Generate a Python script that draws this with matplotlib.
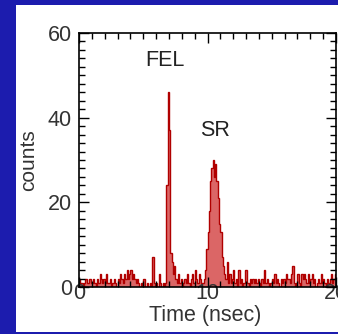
import numpy as np
import matplotlib
matplotlib.use("Agg")
import matplotlib.pyplot as plt
from matplotlib.patches import Rectangle
from matplotlib.ticker import MultipleLocator

plt.rcParams['font.family'] = ['Liberation Sans', 'DejaVu Sans']

# Time-of-flight histogram, 0.1 ns bins from 0 to 20 ns
bin_width = 0.1
counts = [
    # 0-1 ns
    2, 1, 1, 0, 1, 2, 1, 1, 2, 1,
    # 1-2 ns
    1, 2, 1, 0, 2, 1, 3, 2, 1, 2,
    # 2-3 ns
    1, 3, 1, 1, 2, 0, 1, 2, 1, 0,
    # 3-4 ns
    2, 1, 3, 2, 1, 3, 2, 4, 2, 3,
    # 4-5 ns
    4, 2, 3, 2, 1, 2, 1, 0, 1, 0,
    # 5-6 ns
    2, 0, 0, 1, 0, 1, 0, 7, 1, 0,
    # 6-7 ns (FEL)
    1, 0, 3, 1, 0, 1, 0, 1, 24, 46,
    # 7-8 ns
    37, 8, 6, 3, 5, 2, 1, 3, 1, 2,
    # 8-9 ns
    0, 1, 2, 1, 3, 1, 0, 2, 3, 1,
    # 9-10 ns (SR)
    4, 2, 1, 3, 2, 1, 1, 2, 4, 9,
    # 10-11 ns
    13, 18, 25, 28, 30, 26, 29, 25, 21, 15,
    # 11-12 ns
    13, 7, 5, 3, 2, 6, 1, 3, 1, 2,
    # 12-13 ns
    4, 1, 2, 0, 4, 1, 2, 0, 1, 4,
    # 13-14 ns
    4, 1, 0, 2, 1, 2, 1, 2, 1, 2,
    # 14-15 ns
    1, 0, 2, 1, 4, 1, 2, 1, 0, 1,
    # 15-16 ns
    2, 1, 3, 1, 2, 1, 0, 2, 1, 2,
    # 16-17 ns
    1, 3, 2, 2, 1, 3, 5, 1, 0, 1,
    # 17-18 ns
    3, 1, 0, 3, 2, 3, 2, 1, 3, 1,
    # 18-19 ns
    2, 3, 1, 2, 0, 1, 2, 1, 3, 1,
    # 19-20 ns
    2, 1, 0, 2, 1, 2, 3, 1, 2, 3,
]
edges = np.arange(len(counts) + 1) * bin_width

peak_labels = ["FEL", "SR"]
peak_label_pos = [(6.7, 53.6), (10.6, 37.0)]

x_ticks = [0, 10, 20]
y_ticks = [0, 20, 40, 60]

W, H, DPI = 338, 334, 100
fig = plt.figure(figsize=(W / DPI, H / DPI), dpi=DPI)
fig.patch.set_facecolor('#1c1cae')

# white slide panel
fig.patches.append(Rectangle((16 / W, 2 / H), 1 - 16 / W, (332 - 5) / H,
                             transform=fig.transFigure, facecolor='white',
                             edgecolor='none', zorder=-5))

ax = fig.add_axes([79 / W, 47 / H, 257 / W, 254 / H])
ax.set_zorder(2)
ax.set_facecolor('none')

ax.stairs(counts, edges, fill=True, facecolor='#c40000', alpha=0.6,
          edgecolor='none')
ax.stairs(counts, edges, color='#b00000', linewidth=1.0)

ax.set_xlim(0, 20)
ax.set_ylim(0, 60)
ax.set_xticks(x_ticks)
ax.set_yticks(y_ticks)
ax.xaxis.set_minor_locator(MultipleLocator(1))
ax.yaxis.set_minor_locator(MultipleLocator(2))
ax.tick_params(which='both', direction='in', top=True, right=True,
               width=1.0, color='black')
ax.tick_params(which='major', length=7, labelsize=15.5, labelcolor='#333333')
ax.tick_params(which='minor', length=4)
ax.tick_params(axis='x', which='major', pad=-3)
ax.tick_params(axis='y', which='major', pad=5)
for s in ax.spines.values():
    s.set_linewidth(1.2)

ax.set_xlabel('Time (nsec)', fontsize=15.5, color='#333333')
ax.set_ylabel('counts', fontsize=15, color='#333333')
ax.xaxis.set_label_coords(0.49, -0.07)
ax.yaxis.set_label_coords(-0.16, 0.5)

for lab, (x, y) in zip(peak_labels, peak_label_pos):
    ax.text(x, y, lab, fontsize=15.5, color='#222222', ha='center', va='center')

fig.savefig('out.png', dpi=DPI, facecolor=fig.get_facecolor())
